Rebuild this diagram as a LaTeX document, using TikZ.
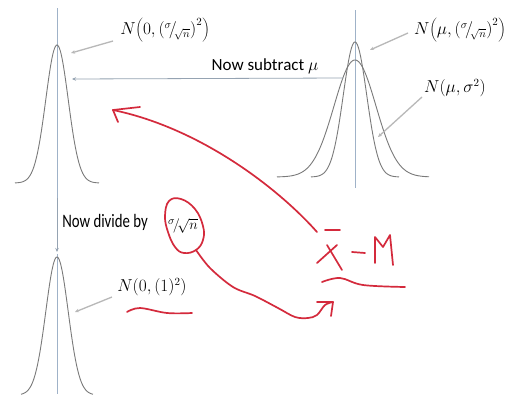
\documentclass[tikz,border=0pt]{standalone}
\usepackage{fontspec}
\setsansfont{Carlito}
\usetikzlibrary{arrows.meta}
\definecolor{axisc}{HTML}{9FB2C8}
\definecolor{curvec}{HTML}{7A7A7A}
\definecolor{pointc}{HTML}{B8B8B8}
\definecolor{inkred}{HTML}{D42A3C}
\begin{document}
\begin{tikzpicture}[x=1pt,y=-1pt,
  axisline/.style={axisc, line width=0.8pt},
  bell/.style={curvec, line width=0.9pt},
  pointer/.style={pointc, line width=1.3pt, -{Stealth[length=4pt,width=3.5pt]}},
  guide/.style={axisc!70!gray, line width=0.8pt, -{Stealth[length=4pt,width=3.5pt]}},
  lbl/.style={inner sep=0pt, font=\fontsize{16}{18}\selectfont},
  note/.style={inner sep=0pt, font=\sffamily\fontsize{17}{19}\selectfont},
  ink/.style={inkred, line width=1.7pt, line cap=round, line join=round}]
\useasboundingbox (0,0) rectangle (509,394);
\fill[white] (0,0) rectangle (509,394);

% axes
\coordinate (a1t) at (57,8);   \coordinate (a1b) at (57,200);
\coordinate (a2t) at (355,10); \coordinate (a2b) at (355,188);
\coordinate (a3t) at (57,254); \coordinate (a3b) at (57,394);
\draw[axisline] (a1t) -- (a1b);
\draw[axisline] (a2t) -- (a2b);
\draw[axisline] (a3t) -- (a3b);

% bell curves
\draw[bell] plot[domain=-42:42,samples=90,smooth] ({57+\x},{183-138*exp(-(\x*\x)/250)});
\draw[bell] plot[domain=-44:44,samples=90,smooth] ({355+\x},{177-135*exp(-(\x*\x)/275)});
\draw[bell] plot[domain=-78:74,samples=120,smooth] ({355+\x},{177-117*exp(-(\x*\x)/882)});
\draw[bell] plot[domain=-36:36,samples=90,smooth] ({57+\x},{395-138*exp(-(\x*\x)/250)});

% labels
\node[lbl] (L1) at (165,30) {$N\biggl(0,\Bigl({}^{\sigma}\!\big/\!{}_{\sqrt{n}}\Bigr)^{2}\biggr)$};
\node[lbl] (L2) at (460,30) {$N\biggl(\mu,\Bigl({}^{\sigma}\!\big/\!{}_{\sqrt{n}}\Bigr)^{2}\biggr)$};
\node[lbl] (L3) at (455,88) {$N(\mu,\sigma^{2})$};
\node[lbl] (L4) at (152,287) {$N(0,(1)^{2})$};

\coordinate (p1s) at (113,41);  \coordinate (p1e) at (71,53);
\coordinate (p2s) at (408,33);  \coordinate (p2e) at (370,50);
\coordinate (p3s) at (422,97);  \coordinate (p3e) at (378,137);
\coordinate (p4s) at (112,297); \coordinate (p4e) at (75,312);
\draw[pointer] (p1s) -- (p1e);
\draw[pointer] (p2s) -- (p2e);
\draw[pointer] (p3s) -- (p3e);
\draw[pointer] (p4s) -- (p4e);

% transformation arrows
\coordinate (subS) at (343,78); \coordinate (subE) at (72,79);
\draw[guide] (subS) -- (subE);
\node[note] (sub) at (265,66) {Now subtract $\mu$};
\coordinate (divS) at (57,198); \coordinate (divE) at (57,252);
\draw[guide] (divS) -- (divE);
\node[note, font=\sffamily\fontsize{19}{21}\selectfont] (div) at (105,222) {\scalebox{0.78}[1]{Now divide by}};
\node[lbl, font=\fontsize{15}{17}\selectfont] (sg) at (183,226) {${}^{\sigma}\!\big/\!\sqrt{n}$};

% red handwriting
\coordinate (xm) at (317,232);
\coordinate (tip1) at (113,110);
\draw[ink] (xm) .. controls (278,188) and (200,128) .. (tip1);
\draw[ink] (tip1) -- (140,107);
\draw[ink] (tip1) -- (118,122);

\draw[ink] plot[smooth cycle, tension=0.7] coordinates {(169,201) (181,199) (195,209) (203,226) (203,240) (196,250) (184,253) (175,247) (168,232) (165,216)};
\coordinate (tip2) at (333,302);
\draw[ink] plot[smooth, tension=0.55] coordinates {(196,250) (210,268) (233,287) (255,296) (278,308) (295,317) (308,318) (317,315) (325,305) (333,302)};
\draw[ink] (317,302) -- (tip2) -- (331,316);

% x-bar minus mu
\draw[ink] (325,230) -- (340,230);
\draw[ink] (317,263) -- (337,245);
\draw[ink] (327,245) -- (342,270);
\draw[ink] (352,252) -- (365,253);
\draw[ink] (375,263) -- (375,237) -- (383,247) -- (390,235) -- (393,265);
\draw[ink] plot[smooth, tension=0.6] coordinates {(322,282) (340,278) (363,285) (405,287)};

% underline of N(0,(1)^2)
\draw[ink] plot[smooth, tension=0.6] coordinates {(127,312) (140,308) (167,313) (192,313)};
\end{tikzpicture}
\end{document}
